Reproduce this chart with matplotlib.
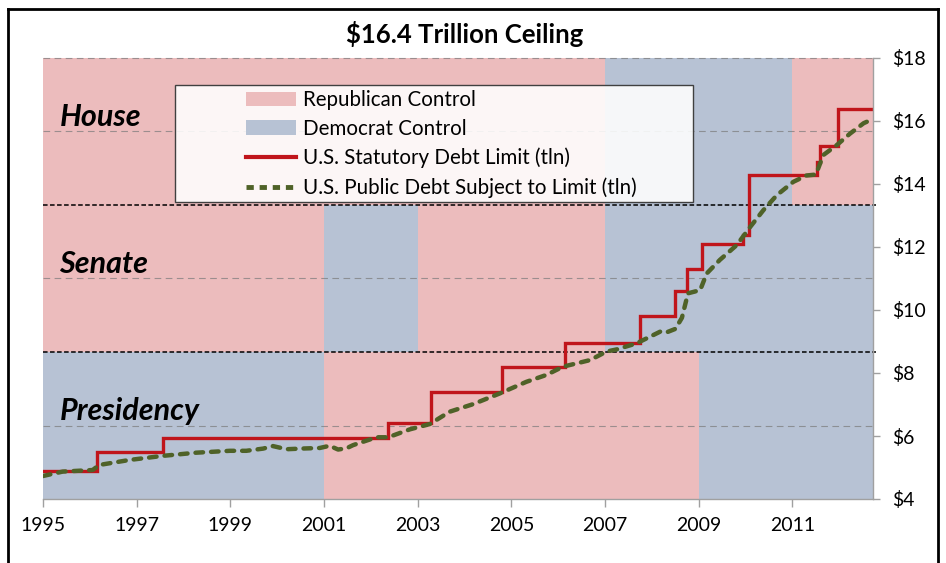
import numpy as np
import matplotlib.pyplot as plt
from matplotlib.patches import Patch, Rectangle
from matplotlib.lines import Line2D

plt.rcParams['font.family'] = ['Lato', 'DejaVu Sans']

# ==================== DATA ==========================================

# statutory debt limit (tln), value in force from each date onward
limit_dates = [1995.0, 1996.16, 1997.56, 2002.37, 2003.29, 2004.79, 2006.14,
               2007.74, 2008.49, 2008.74, 2009.06, 2009.94, 2010.08, 2011.52,
               2011.58, 2011.97, 2012.72]
limit_values = [4.9, 5.5, 5.95, 6.4, 7.384, 8.184, 8.965,
                9.815, 10.615, 11.315, 12.104, 12.394, 14.294, 14.694,
                15.194, 16.394, 16.394]

# public debt subject to limit (tln)
debt_dates = [1995.0, 1995.42, 1996.06, 1996.2, 1996.85, 1997.56, 1998.27,
              1998.99, 1999.34, 1999.7, 1999.91, 2000.2, 2000.5, 2000.91,
              2001.12, 2001.3, 2001.48, 2001.62, 2002.12, 2002.37, 2002.83,
              2003.26, 2003.68, 2004.18, 2004.75, 2005.32, 2005.75, 2006.1,
              2006.68, 2007.03, 2007.25, 2007.67, 2008.2, 2008.33, 2008.5,
              2008.64, 2008.77, 2009.03, 2009.17, 2009.45, 2009.81, 2010.1,
              2010.38, 2010.67, 2011.02, 2011.3, 2011.5, 2011.66, 2011.95,
              2012.23, 2012.52, 2012.7]
debt_values = [4.73, 4.87, 4.92, 5.08, 5.24, 5.37, 5.47,
               5.53, 5.53, 5.6, 5.68, 5.58, 5.60, 5.62,
               5.69, 5.57, 5.61, 5.71, 5.96, 5.96, 6.21,
               6.38, 6.77, 7.01, 7.35, 7.72, 7.94, 8.20,
               8.41, 8.68, 8.75, 8.94, 9.33, 9.30, 9.40,
               9.75, 10.53, 10.63, 11.16, 11.59, 12.06, 12.64,
               13.17, 13.65, 14.07, 14.27, 14.3, 14.92, 15.24,
               15.6, 15.93, 16.05]

# party control, each entry starts a new period
house_start = [1995, 2007, 2011]
house_party = ["R", "D", "R"]
senate_start = [1995, 2001, 2003, 2007]
senate_party = ["R", "D", "R", "D"]
pres_start = [1995, 2001, 2009]
pres_party = ["D", "R", "D"]

row_names = ["House", "Senate", "Presidency"]

x_end = 2012.72
xticks = [1995, 1997, 1999, 2001, 2003, 2005, 2007, 2009, 2011]
xtick_labels = ["1995", "1997", "1999", "2001", "2003", "2005", "2007", "2009", "2011"]
yticks = [4, 6, 8, 10, 12, 14, 16, 18]
ytick_labels = ["$4", "$6", "$8", "$10", "$12", "$14", "$16", "$18"]

# ==================== PLOT ==========================================

W, H = 946, 563
party_color = {"R": "#ecbcbd", "D": "#b7c2d4"}
red = "#c0151b"
green = "#4f6228"

fig = plt.figure(figsize=(W / 100, H / 100), dpi=100)
ax = fig.add_axes([43 / W, 64 / H, 830 / W, 441 / H])

ymin, ymax = yticks[0], yticks[-1]
row_h = (ymax - ymin) / 3
rows = [(house_start, house_party), (senate_start, senate_party), (pres_start, pres_party)]

for i, (starts, parties) in enumerate(rows):
    bottom = ymax - (i + 1) * row_h
    ends = starts[1:] + [x_end]
    widths = np.array(ends) - np.array(starts)
    ax.bar(starts, row_h, width=widths, bottom=bottom, align="edge",
           color=[party_color[p] for p in parties], linewidth=0, zorder=1)

    # light dashed line across the middle of each band, label sits on it
    mid = bottom + row_h / 2
    ax.axhline(mid, color="#7a7a7a", lw=0.8, dashes=(6, 4), alpha=0.7, zorder=2)
    ax.text(1995.35, mid + 0.17, row_names[i], fontsize=22, weight="bold",
            style="italic", ha="left", va="baseline", zorder=3)

    if i > 0:
        ax.plot([xticks[0], x_end + 0.07], [bottom + row_h] * 2, color="black",
                lw=1.1, dashes=(3, 1.6), clip_on=False, zorder=4)

ax.axhline(ymax, color="#7a7a7a", lw=0.8, dashes=(6, 4), alpha=0.7, zorder=2, clip_on=False)

ax.plot(limit_dates, limit_values, drawstyle="steps-post", color=red, lw=2.4,
        zorder=5, solid_joinstyle="miter")
ax.plot(debt_dates, debt_values, color=green, lw=3.2, dashes=(1.7, 1.8),
        dash_capstyle="round", zorder=6)

ax.set_xlim(xticks[0], x_end)
ax.set_ylim(ymin, ymax)
ax.set_xticks(xticks)
ax.set_xticklabels(xtick_labels)
ax.set_yticks(yticks)
ax.set_yticklabels(ytick_labels)
ax.yaxis.tick_right()

for s in ["left", "top"]:
    ax.spines[s].set_visible(False)
for s in ["right", "bottom"]:
    ax.spines[s].set_color("#a0a0a0")
    ax.spines[s].set_linewidth(1)
    ax.spines[s].set_zorder(7)

ax.tick_params(axis="x", direction="out", length=6, width=1, pad=7,
               color="#a0a0a0", labelsize=14)
ax.tick_params(axis="y", direction="out", length=5, width=1, pad=9,
               color="#a0a0a0", labelsize=14)

# title
fig.text(465 / W, 1 - 34 / H, "$16.4 Trillion Ceiling", fontsize=18.5,
         weight="bold", ha="center", va="center")

# legend box (drawn separately so the entries can sit far from its left edge)
box = Rectangle((175 / W, 1 - 202 / H), 518 / W, 117 / H, transform=fig.transFigure,
                facecolor="white", alpha=0.88, edgecolor="none", zorder=2)
fig.add_artist(box)
box_edge = Rectangle((175 / W, 1 - 202 / H), 518 / W, 117 / H, transform=fig.transFigure,
                     facecolor="none", edgecolor="#404040", lw=1, zorder=2)
fig.add_artist(box_edge)

handles = [
    Patch(facecolor=party_color["R"], edgecolor="none"),
    Patch(facecolor=party_color["D"], edgecolor="none"),
    Line2D([], [], color=red, lw=3),
    Line2D([], [], color=green, lw=3.5, dashes=(1.5, 1.2)),
]
labels = ["Republican Control", "Democrat Control",
          "U.S. Statutory Debt Limit (tln)", "U.S. Public Debt Subject to Limit (tln)"]
fig.legend(handles, labels, loc="upper left", bbox_to_anchor=(246 / W, 1 - 90 / H),
           frameon=False, fontsize=14.8, handlelength=2.45, handletextpad=0.3,
           labelspacing=0.43, borderpad=0, borderaxespad=0)

# outer frame (bottom edge runs off the picture)
for xs, ys in [([8, 8], [9, H + 5]), ([8, 938], [9, 9]), ([938, 938], [9, H + 5])]:
    fig.add_artist(Line2D([x / W for x in xs], [1 - y / H for y in ys],
                          transform=fig.transFigure, color="black", lw=2))

fig.savefig("out.png", dpi=100)
